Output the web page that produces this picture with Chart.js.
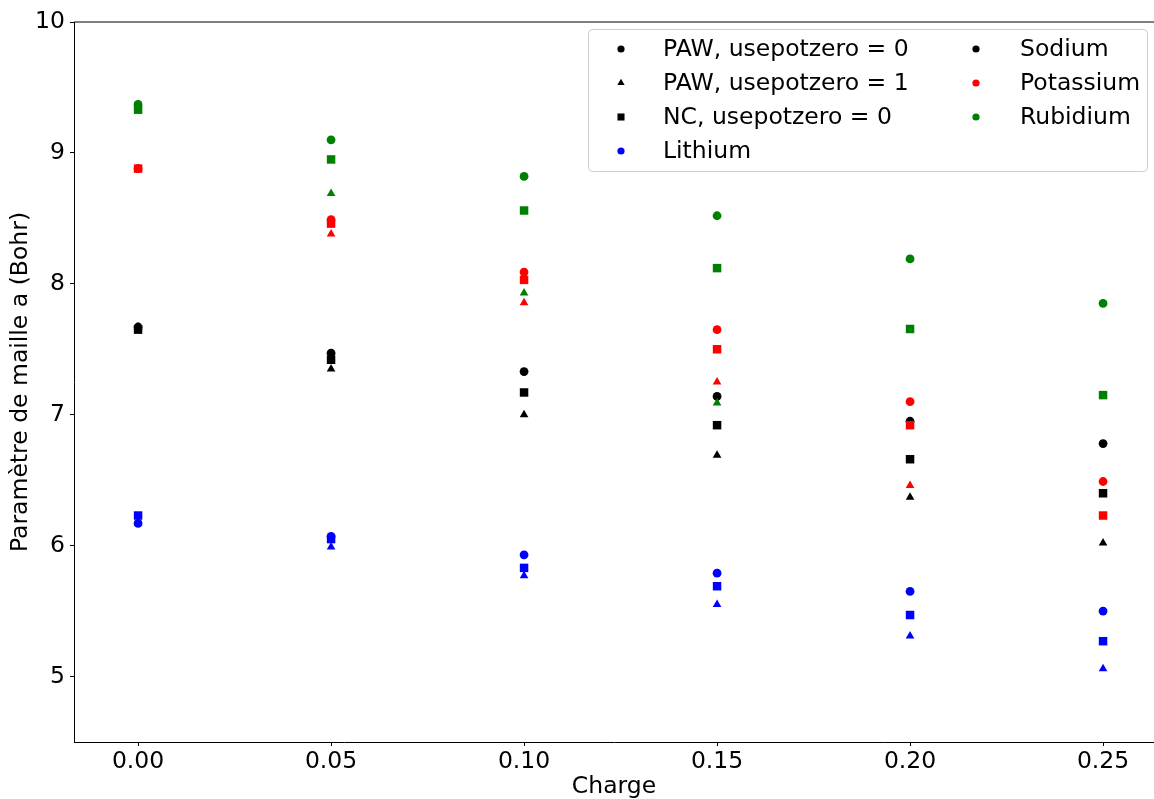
<!DOCTYPE html>
<html>
<head>
<meta charset="utf-8">
<script src="https://cdn.jsdelivr.net/npm/chart.js@4/dist/chart.umd.min.js"></script>
<style>
  html, body { margin: 0; padding: 0; background: #fff; }
  #wrap { width: 1154px; height: 799px; position: relative; }
</style>
</head>
<body>
<div id="wrap"><canvas id="c" width="1154" height="799"></canvas></div>
<script>
// ---- data ----
const charges = [0.00, 0.05, 0.10, 0.15, 0.20, 0.25];
const xTicks = [0.00, 0.05, 0.10, 0.15, 0.20, 0.25];
const yTicks = [5, 6, 7, 8, 9, 10];

const liPaw0 = [6.17, 6.07, 5.93, 5.79, 5.65, 5.50];
const liPaw1 = [6.17, 5.99, 5.77, 5.55, 5.31, 5.06];
const liNc0  = [6.23, 6.05, 5.83, 5.69, 5.47, 5.27];

const naPaw0 = [7.67, 7.47, 7.33, 7.14, 6.95, 6.78];
const naPaw1 = [7.67, 7.35, 7.00, 6.69, 6.37, 6.02];
const naNc0  = [7.65, 7.42, 7.17, 6.92, 6.66, 6.40];

const kPaw0  = [8.88, 8.49, 8.09, 7.65, 7.10, 6.49];
const kPaw1  = [8.88, 8.38, 7.855, 7.25, 6.46, null];
const kNc0   = [8.88, 8.46, 8.03, 7.50, 6.92, 6.23];

const rbPaw0 = [9.37, 9.10, 8.82, 8.52, 8.19, 7.85];
const rbPaw1 = [9.36, 8.69, 7.93, 7.09, null, null];
const rbNc0  = [9.33, 8.95, 8.56, 8.12, 7.655, 7.15];

const elements = [
  { name: 'Lithium',   color: '#0000ff', series: [liPaw0, liPaw1, liNc0] },
  { name: 'Sodium',    color: '#000000', series: [naPaw0, naPaw1, naNc0] },
  { name: 'Potassium', color: '#ff0000', series: [kPaw0, kPaw1, kNc0] },
  { name: 'Rubidium',  color: '#008000', series: [rbPaw0, rbPaw1, rbNc0] }
];
const methods = [
  { name: 'PAW, usepotzero = 0', style: 'circle',   radius: 4.4, order: 3 },
  { name: 'PAW, usepotzero = 1', style: 'triangle', radius: 5.0, order: 2 },
  { name: 'NC, usepotzero = 0',  style: 'rect',     radius: 6.0, order: 1 }
];

const datasets = [];
methods.forEach((m, mi) => {
  elements.slice().reverse().forEach(el => {
    const arr = el.series[mi];
    const pts = [];
    charges.forEach((c, i) => { if (arr[i] !== null) pts.push({ x: c, y: arr[i] }); });
    datasets.push({
      label: el.name + ' ' + m.name,
      data: pts,
      pointStyle: m.style,
      pointRadius: m.radius,
      pointHoverRadius: m.radius,
      pointBorderWidth: 0,
      borderWidth: 0,
      backgroundColor: el.color,
      borderColor: el.color,
      order: m.order,
      showLine: false
    });
  });
});

const legendItems = [
  { col: 0, row: 0, text: 'PAW, usepotzero = 0', style: 'circle', color: '#000000', r: 3.6 },
  { col: 0, row: 1, text: 'PAW, usepotzero = 1', style: 'triangle', color: '#000000', r: 4.2 },
  { col: 0, row: 2, text: 'NC, usepotzero = 0', style: 'rect', color: '#000000', r: 5.0 },
  { col: 0, row: 3, text: 'Lithium', style: 'circle', color: '#0000ff', r: 3.6 },
  { col: 1, row: 0, text: 'Sodium', style: 'circle', color: '#000000', r: 3.6 },
  { col: 1, row: 1, text: 'Potassium', style: 'circle', color: '#ff0000', r: 3.6 },
  { col: 1, row: 2, text: 'Rubidium', style: 'circle', color: '#008000', r: 3.6 }
];

const FONT = '"DejaVu Sans", sans-serif';
const FS = 23.5;

const framePlugin = {
  id: 'frame',
  afterDraw(chart) {
    const ctx = chart.ctx;
    const a = chart.chartArea;
    ctx.save();
    ctx.strokeStyle = '#000';
    ctx.lineWidth = 1;
    ctx.beginPath();
    ctx.moveTo(a.left, a.top);
    ctx.lineTo(a.right, a.top);
    ctx.stroke();

    const bx = 588.5, by = 29.5, bw = 559, bh = 142, br = 4;
    ctx.beginPath();
    ctx.moveTo(bx + br, by);
    ctx.lineTo(bx + bw - br, by);
    ctx.quadraticCurveTo(bx + bw, by, bx + bw, by + br);
    ctx.lineTo(bx + bw, by + bh - br);
    ctx.quadraticCurveTo(bx + bw, by + bh, bx + bw - br, by + bh);
    ctx.lineTo(bx + br, by + bh);
    ctx.quadraticCurveTo(bx, by + bh, bx, by + bh - br);
    ctx.lineTo(bx, by + br);
    ctx.quadraticCurveTo(bx, by, bx + br, by);
    ctx.closePath();
    ctx.fillStyle = 'rgba(255,255,255,0.8)';
    ctx.fill();
    ctx.strokeStyle = '#cccccc';
    ctx.stroke();

    const markerX = [621, 976];
    const textX = [663, 1020];
    const rowY = [49, 83, 117, 151];
    ctx.font = FS + 'px ' + FONT;
    ctx.textBaseline = 'middle';
    ctx.textAlign = 'left';
    legendItems.forEach(it => {
      ctx.fillStyle = it.color;
      ctx.strokeStyle = it.color;
      Chart.helpers.drawPoint(ctx, { pointStyle: it.style, radius: it.r, rotation: 0, borderWidth: 0 }, markerX[it.col], rowY[it.row]);
      ctx.fillStyle = '#000';
      ctx.fillText(it.text, textX[it.col], rowY[it.row] + 1);
    });
    ctx.restore();
  }
};

new Chart(document.getElementById('c'), {
  type: 'scatter',
  data: { datasets },
  plugins: [framePlugin],
  options: {
    responsive: false,
    animation: false,
    events: [],
    layout: { autoPadding: false, padding: { top: 22, right: 0, left: 0, bottom: 0 } },
    plugins: { legend: { display: false }, tooltip: { enabled: false } },
    scales: {
      x: {
        type: 'linear',
        min: -0.0166,
        max: 0.2632,
        afterBuildTicks: (axis) => { axis.ticks = xTicks.map(v => ({ value: v })); },
        afterFit: (scale) => { scale.height = 57; scale.paddingLeft = 0; scale.paddingRight = 0; },
        ticks: {
          color: '#000',
          font: { family: FONT, size: FS },
          padding: 2,
          maxRotation: 0,
          autoSkip: false,
          callback: (v) => Number(v).toFixed(2)
        },
        grid: { drawOnChartArea: false, drawTicks: true, tickLength: 4, color: '#000', tickWidth: 1 },
        border: { display: true, color: '#000', width: 1 },
        title: { display: true, text: 'Charge', color: '#000', font: { family: FONT, size: FS }, padding: { top: 0, bottom: -2 } }
      },
      y: {
        type: 'linear',
        min: 4.5,
        max: 10,
        afterBuildTicks: (axis) => { axis.ticks = yTicks.map(v => ({ value: v })); },
        afterFit: (scale) => { scale.width = 74; scale.paddingTop = 0; scale.paddingBottom = 0; },
        ticks: {
          color: '#000',
          font: { family: FONT, size: FS },
          padding: 5,
          autoSkip: false,
          callback: (v) => String(v)
        },
        grid: { drawOnChartArea: false, drawTicks: true, tickLength: 4, color: '#000', tickWidth: 1 },
        border: { display: true, color: '#000', width: 1 },
        title: { display: true, text: 'Paramètre de maille a (Bohr)', color: '#000', font: { family: FONT, size: FS }, padding: { top: 7, bottom: 0 } }
      }
    }
  }
});
</script>
</body>
</html>
